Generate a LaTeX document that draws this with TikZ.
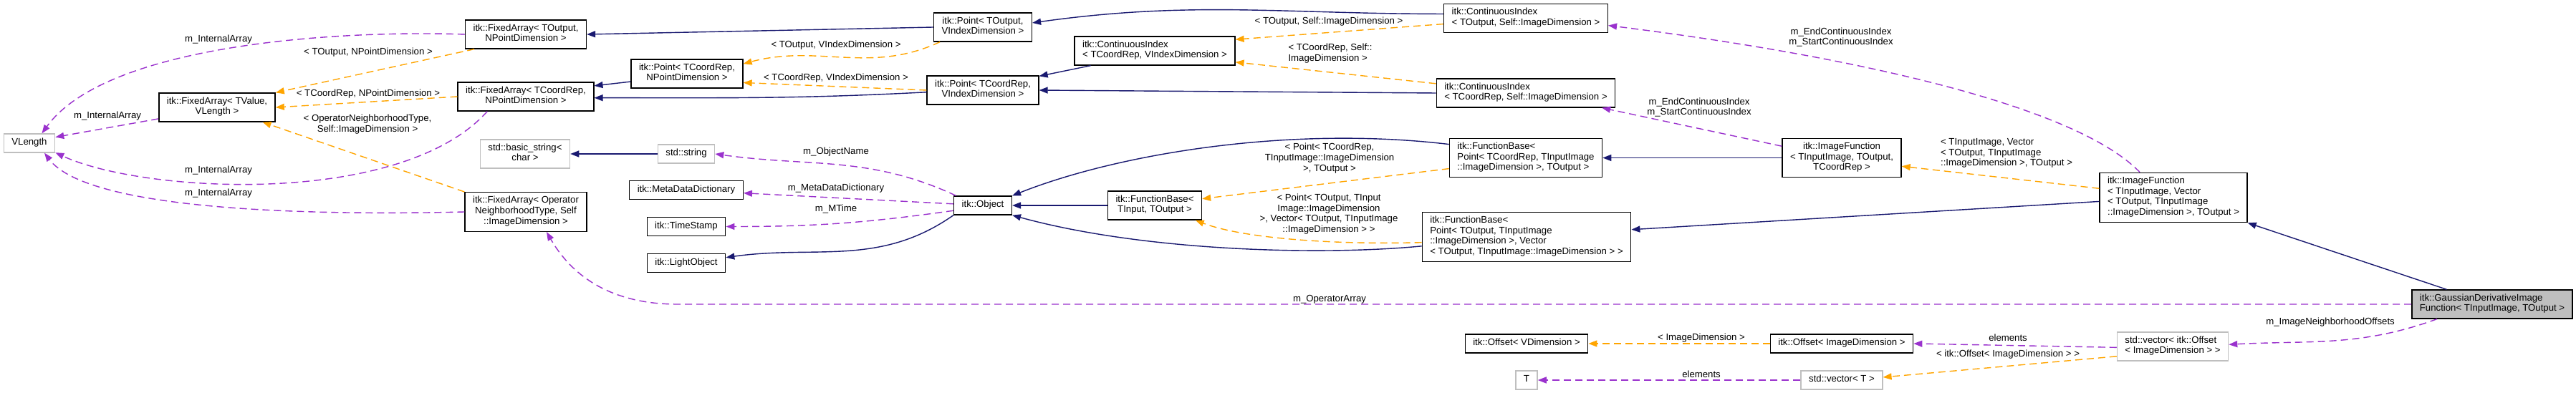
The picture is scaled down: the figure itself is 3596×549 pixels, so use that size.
\documentclass[tikz,border=0pt]{standalone}
\usepackage{fontspec}
\setmainfont{Liberation Sans}
\usepackage{tikz}
\usetikzlibrary{arrows.meta}

\definecolor{edgeblue}{HTML}{191970}
\definecolor{edgeorange}{HTML}{FFA500}
\definecolor{edgepurple}{HTML}{9A32CD}
\definecolor{boxgray}{HTML}{BFBFBF}

\begin{document}
\begin{tikzpicture}[x=0.5pt,y=-0.5pt,
    font=\fontsize{6.6}{7.35}\selectfont,
    cls/.style={draw=black,line width=0.7pt,fill=white,inner xsep=5.5pt,inner ysep=2.8pt,
      execute at begin node=\strut,execute at end node=\strut,align=center},
    ext/.style={cls,draw=boxgray},
    lbl/.style={inner sep=0pt,align=center},
    inh/.style={draw=edgeblue,line width=0.7pt,-{Triangle[length=6pt,width=4.5pt]}},
    tmpl/.style={draw=edgeorange,line width=0.7pt,dash pattern=on 5pt off 3pt,
      -{Triangle[length=6pt,width=4.5pt,fill=edgeorange]}},
    use/.style={draw=edgepurple,line width=0.7pt,dash pattern=on 5pt off 3pt,
      -{Triangle[length=6pt,width=4.5pt,fill=edgepurple]}}]
        \fill[white] (0,0) rectangle (3596,549);
        \useasboundingbox (0,0) rectangle (3596,549);
        % Fixed arrays
        \node[ext] (VLen) at (41,200) {VLength};
        \node[cls] (FAValue) at (303,150) {itk::FixedArray< TValue,\\VLength >};
        \node[cls] (FAOut) at (734,48) {itk::FixedArray< TOutput,\\NPointDimension >};
        \node[cls] (FACoord) at (734,135) {itk::FixedArray< TCoordRep,\\NPointDimension >};
        \node[ext] (BasicStr) at (733,215) {std::basic\_string<\\char >};
        \node[cls] (FAOper) at (734,296) {itk::FixedArray< Operator\\NeighborhoodType, Self\\::ImageDimension >};
        % Points and continuous indices
        \node[cls] (PtOut) at (1372,38) {itk::Point< TOutput,\\VIndexDimension >};
        \node[cls] (PtCoordN) at (959,103) {itk::Point< TCoordRep,\\NPointDimension >};
        \node[cls] (PtCoordV) at (1372,126) {itk::Point< TCoordRep,\\VIndexDimension >};
        \node[cls,align=left] (CIndex) at (1612,71) {itk::ContinuousIndex\\< TCoordRep, VIndexDimension >};
        \node[cls,align=left] (CIndexOut) at (2130,25.5) {itk::ContinuousIndex\\< TOutput, Self::ImageDimension >};
        \node[cls,align=left] (CIndexCoord) at (2130,130) {itk::ContinuousIndex\\< TCoordRep, Self::ImageDimension >};
        % Object and its members
        \node[ext] (StdStr) at (958,215) {std::string};
        \node[cls] (MetaDict) at (958,265.5) {itk::MetaDataDictionary};
        \node[cls] (TimeSt) at (958,316.5) {itk::TimeStamp};
        \node[cls] (LightObj) at (958,367.5) {itk::LightObject};
        \node[cls] (Obj) at (1372,287) {itk::Object};
        % Function bases and image functions
        \node[cls] (FBase) at (1612,287) {itk::FunctionBase<\\TInput, TOutput >};
        \node[cls,align=left] (FBCoord) at (2130,220.5) {itk::FunctionBase<\\Point< TCoordRep, TInputImage\\::ImageDimension >, TOutput >};
        \node[cls,align=left] (FBOut) at (2131,331) {itk::FunctionBase<\\Point< TOutput, TInputImage\\::ImageDimension >, Vector\\< TOutput, TInputImage::ImageDimension > >};
        \node[cls] (ImgFunc) at (2571,220.5) {itk::ImageFunction\\< TInputImage, TOutput,\\TCoordRep >};
        \node[cls,align=left] (ImgFuncVec) at (3034,276) {itk::ImageFunction\\< TInputImage, Vector\\< TOutput, TInputImage\\::ImageDimension >, TOutput >};
        \node[cls,fill=boxgray,align=left] (Gauss) at (3479,425) {itk::GaussianDerivativeImage\\Function< TInputImage, TOutput >};
        % Offsets and vectors
        \node[cls] (OffV) at (2131,480) {itk::Offset< VDimension >};
        \node[cls] (OffI) at (2571,480) {itk::Offset< ImageDimension >};
        \node[ext,align=left] (VecOff) at (3033,484) {std::vector< itk::Offset\\< ImageDimension > >};
        \node[ext] (TT) at (2131,531) {T};
        \node[ext] (VecT) at (2571,531) {std::vector< T >};
        % Inheritance
        \draw[inh] (PtOut.west) -- (FAOut.east);
        \draw[inh] (CIndexOut.177) to[out=180,in=8] (PtOut.5);
        \draw[inh] (PtCoordN.188) -- (FACoord.9);
        \draw[inh] (PtCoordV.182) to[out=183,in=0] (FACoord.-1);
        \draw[inh] (CIndex.193) -- (PtCoordV.14);
        \draw[inh] (CIndexCoord.west) -- (PtCoordV.east);
        \draw[inh] (StdStr.west) -- (BasicStr.east);
        \draw[inh] (Obj.south west) to[out=215,in=8] (LightObj.8);
        \draw[inh] (FBase.west) -- (Obj.east);
        \draw[inh] (FBCoord.170) .. controls (1800,175) and (1560,215) .. (Obj.north east);
        \draw[inh] (FBOut.185) .. controls (1850,357) and (1600,352) .. (Obj.south east);
        \draw[inh] (ImgFunc.west) -- (FBCoord.east);
        \draw[inh] (ImgFuncVec.183) -- (FBOut.4);
        \draw[inh] (Gauss.162) -- (ImgFuncVec.south east);
        % Template instances
        \draw[tmpl] (FAOut.196) -- (FAValue.north east);
        \draw[tmpl] (FACoord.west) -- (FAValue.east);
        \draw[tmpl] (FAOper.north west) -- (FAValue.-18);
        \draw[tmpl] (PtOut.199) to[out=205,in=15] (PtCoordN.10);
        \draw[tmpl] (PtCoordV.west) -- (PtCoordN.-9);
        \draw[tmpl] (CIndexOut.184) -- (CIndex.8);
        \draw[tmpl] (CIndexCoord.174) -- (CIndex.-8);
        \draw[tmpl] (FBCoord.188) -- (FBase.8);
        \draw[tmpl] (FBOut.183) .. controls (1880,342) and (1740,335) .. (FBase.-20);
        \draw[tmpl] (ImgFuncVec.173) -- (ImgFunc.-8);
        \draw[tmpl] (OffI.west) -- (OffV.east);
        \draw[tmpl] (VecOff.190) -- (VecT.4);
        % Members
        \draw[use] (FAOut.west) .. controls (480,42) and (150,60) .. (VLen.38);
        \draw[use] (FAValue.191) -- (VLen.13);
        \draw[use] (FACoord.201) .. controls (560,290) and (200,270) .. (VLen.-20);
        \draw[use] (FAOper.west) .. controls (400,302) and (120,290) .. (VLen.-33);
        \draw[use] (Obj.160) to[out=155,in=-8] (StdStr.east);
        \draw[use] (Obj.177) -- (MetaDict.-3);
        \draw[use] (Obj.190) to[out=188,in=0] (TimeSt.east);
        \draw[use] (ImgFunc.169) -- (CIndexCoord.-11);
        \draw[use] (ImgFuncVec.143) .. controls (2900,150) and (2600,80) .. (CIndexOut.-5);
        \draw[use] (Gauss.west) -- ++(-2420,0) to[out=180,in=-60] (FAOper.-44);
        \draw[use] (Gauss.195) to[out=200,in=3] (VecOff.2);
        \draw[use] (VecOff.181) -- (OffI.east);
        \draw[use] (VecT.west) -- (TT.east);
        % Labels
        \node[lbl] (lIntA) at (305,55) {m\_InternalArray};
        \node[lbl] (lIntB) at (150,162) {m\_InternalArray};
        \node[lbl] (lIntC) at (305,238) {m\_InternalArray};
        \node[lbl] (lIntD) at (305,270) {m\_InternalArray};
        \node[lbl] (lFAOut) at (514,73) {< TOutput, NPointDimension >};
        \node[lbl] (lFACoord) at (514,131) {< TCoordRep, NPointDimension >};
        \node[lbl] (lFAOper) at (513,173.5) {< OperatorNeighborhoodType,\\Self::ImageDimension >};
        \node[lbl] (lPtOut) at (1167,63) {< TOutput, VIndexDimension >};
        \node[lbl] (lPtCoord) at (1167,109) {< TCoordRep, VIndexDimension >};
        \node[lbl] (lName) at (1167,212) {m\_ObjectName};
        \node[lbl] (lDict) at (1167,263) {m\_MetaDataDictionary};
        \node[lbl] (lTime) at (1167,292) {m\_MTime};
        \node[lbl] (lCIOut) at (1855,30) {< TOutput, Self::ImageDimension >};
        \node[lbl,align=left] (lCICoord) at (1857,74.5) {< TCoordRep, Self::\\ImageDimension >};
        \node[lbl] (lContA) at (2570,52) {m\_EndContinuousIndex\\m\_StartContinuousIndex};
        \node[lbl] (lContB) at (2372,150) {m\_EndContinuousIndex\\m\_StartContinuousIndex};
        \node[lbl] (lFBCoord) at (1856,221) {< Point< TCoordRep,\\TInputImage::ImageDimension\\>, TOutput >};
        \node[lbl] (lFBOut) at (1855,299) {< Point< TOutput, TInput\\Image::ImageDimension\\>, Vector< TOutput, TInputImage\\::ImageDimension > >};
        \node[lbl] (lOper) at (1856,418) {m\_OperatorArray};
        \node[lbl,align=left] (lImgFunc) at (2801,214) {< TInputImage, Vector\\< TOutput, TInputImage\\::ImageDimension >, TOutput >};
        \node[lbl] (lNeigh) at (3253,450) {m\_ImageNeighborhoodOffsets};
        \node[lbl] (lOffI) at (2375,472) {< ImageDimension >};
        \node[lbl] (lElemA) at (2803,472) {elements};
        \node[lbl] (lElemB) at (2375,523) {elements};
        \node[lbl] (lVecT) at (2803,495) {< itk::Offset< ImageDimension > >};
      \end{tikzpicture}
\end{document}
